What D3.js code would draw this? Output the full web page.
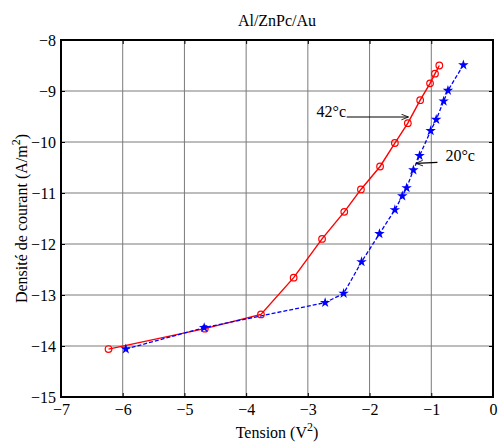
<!DOCTYPE html>
<html>
<head>
<meta charset="utf-8">
<script src="https://cdn.jsdelivr.net/npm/d3@7"></script>
<style>
  body { margin: 0; background: #fff; }
  svg text { font-family: "Liberation Serif", "DejaVu Serif", serif; fill: #000; }
</style>
</head>
<body>
<svg id="chart" width="503" height="445"></svg>
<script>
/* ---------- data ---------- */
const t42x = [-0.87, -0.94, -1.02, -1.18, -1.38, -1.59, -1.83, -2.14, -2.41, -2.77, -3.23, -3.76, -4.67, -6.23];
const t42y = [-8.50, -8.66, -8.85, -9.18, -9.63, -10.02, -10.48, -10.93, -11.37, -11.90, -12.66, -13.38, -13.66, -14.06];
const t20x = [-0.48, -0.73, -0.80, -0.92, -1.01, -1.19, -1.29, -1.40, -1.47, -1.59, -1.84, -2.13, -2.42, -2.72, -4.68, -5.95];
const t20y = [-8.49, -8.99, -9.20, -9.56, -9.78, -10.27, -10.55, -10.90, -11.06, -11.33, -11.80, -12.35, -12.97, -13.15, -13.64, -14.06];
const xTicks = [-7, -6, -5, -4, -3, -2, -1, 0];
const yTicks = [-8, -9, -10, -11, -12, -13, -14, -15];

const s42 = t42x.map((x, i) => ({ x, y: t42y[i] }));
const s20 = t20x.map((x, i) => ({ x, y: t20y[i] }));

/* ---------- layout ---------- */
const serif = '"Liberation Serif", "DejaVu Serif", serif';
const svg = d3.select("#chart");
const m = { left: 61, right: 10, top: 40, bottom: 48 };
const W = 503 - m.left - m.right;
const H = 445 - m.top - m.bottom;
const g = svg.append("g").attr("transform", `translate(${m.left},${m.top})`);

const x = d3.scaleLinear().domain([-7, 0]).range([0, W]);
const y = d3.scaleLinear().domain([-15, -8]).range([H, 0]);

/* grid */
g.append("g")
  .selectAll("line")
  .data(xTicks.slice(1, -1))
  .join("line")
  .attr("x1", (d) => x(d)).attr("x2", (d) => x(d))
  .attr("y1", 0).attr("y2", H)
  .attr("stroke", "#7a7a7a").attr("stroke-width", 1);
g.append("g")
  .selectAll("line")
  .data(yTicks.slice(1, -1))
  .join("line")
  .attr("y1", (d) => y(d)).attr("y2", (d) => y(d))
  .attr("x1", 0).attr("x2", W)
  .attr("stroke", "#7a7a7a").attr("stroke-width", 1);

/* axes with inward ticks on all sides */
const ax = (gen, tr) =>
  g.append("g").attr("transform", tr).call(gen)
    .attr("font-family", serif).attr("font-size", 16)
    .call((s) => s.select(".domain").remove())
    .call((s) => s.selectAll("text").style("font-family", serif).style("font-size", "16px"));

ax(d3.axisBottom(x).tickValues(xTicks).tickSize(-4).tickPadding(7).tickFormat(d3.format("d")), `translate(0,${H})`);
ax(d3.axisTop(x).tickValues(xTicks).tickSize(-4).tickFormat(""), "translate(0,0)");
ax(d3.axisLeft(y).tickValues(yTicks).tickSize(-4).tickPadding(5).tickFormat(d3.format("d")), "translate(0,0)");
ax(d3.axisRight(y).tickValues(yTicks).tickSize(-4).tickFormat(""), `translate(${W},0)`);

g.append("rect")
  .attr("width", W).attr("height", H)
  .attr("fill", "none").attr("stroke", "#000").attr("stroke-width", 2);

/* series */
const line = d3.line().x((d) => x(d.x)).y((d) => y(d.y));

g.append("path").datum(s42)
  .attr("d", line).attr("fill", "none")
  .attr("stroke", "#f00").attr("stroke-width", 1.4);
g.selectAll("circle.m42").data(s42).join("circle")
  .attr("cx", (d) => x(d.x)).attr("cy", (d) => y(d.y)).attr("r", 3.3)
  .attr("fill", "none").attr("stroke", "#f00").attr("stroke-width", 1.2);

g.append("path").datum(s20)
  .attr("d", line).attr("fill", "none")
  .attr("stroke", "#0000ff").attr("stroke-width", 1.3)
  .attr("stroke-dasharray", "4,2");
g.selectAll("path.m20").data(s20).join("path")
  .attr("transform", (d) => `translate(${x(d.x)},${y(d.y)})`)
  .attr("d", d3.symbol(d3.symbolStar, 34)).attr("fill", "#0000ff");

/* annotations */
const defs = svg.append("defs");
defs.append("marker").attr("id", "ah")
  .attr("viewBox", "0 0 10 10").attr("refX", 10).attr("refY", 5)
  .attr("markerWidth", 8).attr("markerHeight", 7).attr("orient", "auto")
  .attr("markerUnits", "userSpaceOnUse")
  .append("path").attr("d", "M0,1L10,5L0,9").attr("fill", "none").attr("stroke", "#000").attr("stroke-width", 1.2);

const notes = [
  { label: "42°c", tx: -2.86, ty: -9.51, ax1: -2.37, ay1: -9.51, ax2: -1.37, ay2: -9.51 },
  { label: "20°c", tx: -0.77, ty: -10.37, ax1: -0.90, ay1: -10.40, ax2: -1.25, ay2: -10.42 }
];
notes.forEach((n) => {
  g.append("text").attr("x", x(n.tx)).attr("y", y(n.ty))
    .style("font-size", "16px").text(n.label);
  g.append("line")
    .attr("x1", x(n.ax1)).attr("y1", y(n.ay1))
    .attr("x2", x(n.ax2)).attr("y2", y(n.ay2))
    .attr("stroke", "#000").attr("stroke-width", 1.1)
    .attr("marker-end", "url(#ah)");
});

/* titles */
svg.append("text").attr("x", m.left + W / 2).attr("y", 26)
  .attr("text-anchor", "middle").style("font-size", "16px").text("Al/ZnPc/Au");

const xl = svg.append("text").attr("x", m.left + W / 2).attr("y", 438)
  .attr("text-anchor", "middle").style("font-size", "16px");
xl.append("tspan").text("Tension (V");
xl.append("tspan").attr("dy", -7).style("font-size", "12px").text("2");
xl.append("tspan").attr("dy", 7).text(")");

const yl = svg.append("text")
  .attr("transform", `translate(27,${m.top + H / 2}) rotate(-90)`)
  .attr("text-anchor", "middle").style("font-size", "16px");
yl.append("tspan").text("Densité de courant (A/m");
yl.append("tspan").attr("dy", -7).style("font-size", "12px").text("2");
yl.append("tspan").attr("dy", 7).text(")");
</script>
</body>
</html>
